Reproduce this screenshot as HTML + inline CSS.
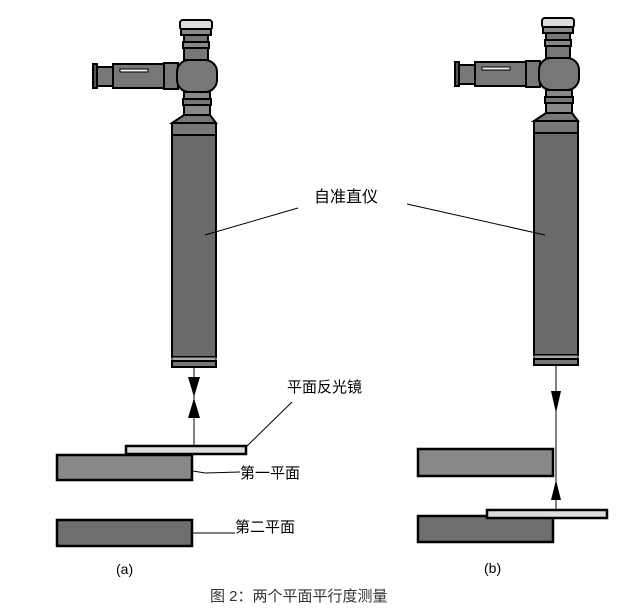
<!DOCTYPE html>
<html><head><meta charset="utf-8"><style>
body{margin:0;background:#fff;}
svg{display:block;}
text{font-family:"Liberation Sans","Noto Sans CJK SC",sans-serif;}
</style></head><body>
<svg width="636" height="614" viewBox="0 0 636 614" xmlns="http://www.w3.org/2000/svg">
<defs>
<g id="inst" stroke="#000" stroke-width="2" fill="#777">
  <rect x="180" y="20" width="32" height="10" rx="3" fill="#ddd"/>
  <rect x="181" y="29" width="30" height="6" fill="#888"/>
  <rect x="184" y="35" width="24" height="7" fill="#777"/>
  <rect x="183" y="42" width="26" height="6" fill="#888"/>
  <rect x="184" y="48" width="24" height="12" fill="#777"/>
  <rect x="93" y="64" width="4" height="24" fill="#555"/>
  <rect x="97" y="67" width="16" height="19" fill="#777"/>
  <rect x="113" y="64" width="51" height="24" fill="#777"/>
  <rect x="120" y="69" width="28" height="3" fill="#eee" stroke-width="1"/>
  <rect x="164" y="63" width="14" height="26" fill="#777"/>
  <rect x="177" y="60" width="40" height="32" rx="12" fill="#777"/>
  <rect x="184" y="92" width="26" height="7" fill="#888"/>
  <rect x="183" y="99" width="28" height="6" fill="#777"/>
  <rect x="184" y="105" width="26" height="10" fill="#888"/>
  <path d="M184 115 L210 115 L216 123 L172 123 Z" fill="#777"/>
  <rect x="172" y="123" width="44" height="12" fill="#777"/>
  <rect x="172" y="135" width="44" height="222" fill="#6a6a6a"/>
  <rect x="172" y="357" width="44" height="4" fill="#aaa" stroke-width="1"/>
  <rect x="172" y="361" width="44" height="6" fill="#777"/>
</g>
</defs>
<use href="#inst"/>
<use href="#inst" transform="translate(362,-2)"/>

<g stroke="#000" stroke-width="1" fill="none">
<path d="M298 208 L205 235"/>
<path d="M407 204 L545 235"/>
<path d="M194 367 L194 446"/>
<path d="M246 447 L292 402"/>
<path d="M175 468 L205 473 L240 472"/>
<path d="M180 533 L235 533"/>
<path d="M556 365 L556 512"/>
</g>
<text x="314" y="202" font-size="16" fill="#000">自准直仪</text>
<text x="287" y="392" font-size="15" fill="#000">平面反光镜</text>
<text x="240" y="478" font-size="15" fill="#000">第一平面</text>
<text x="235" y="532" font-size="15" fill="#000">第二平面</text>
<text x="116" y="574" font-size="14" fill="#000" font-family="Liberation Serif,serif">(a)</text>
<text x="484" y="573" font-size="14" fill="#000" font-family="Liberation Serif,serif">(b)</text>
<text x="210" y="601" font-size="15" fill="#333" font-family="Liberation Serif,'Noto Serif CJK SC',serif">图 2：两个平面平行度测量</text>

<path d="M188 377 L200 377 L194 397 Z" fill="#000"/>
<path d="M188 418 L200 418 L194 398 Z" fill="#000"/>
<path d="M551 391 L561 391 L556 413 Z" fill="#000"/>
<path d="M551 500 L561 500 L556 480 Z" fill="#000"/>

<g stroke="#000" stroke-width="2.5">
<rect x="126" y="446" width="120" height="8" fill="#ddd"/>
<rect x="57" y="455" width="135" height="25" fill="#888"/>
<rect x="57" y="520" width="135" height="26" fill="#6e6e6e"/>
<rect x="418" y="449" width="135" height="27" fill="#888"/>
<rect x="418" y="516" width="135" height="26" fill="#6e6e6e"/>
<rect x="487" y="510" width="120" height="8" fill="#ddd"/>
</g>
</svg>
</body></html>
